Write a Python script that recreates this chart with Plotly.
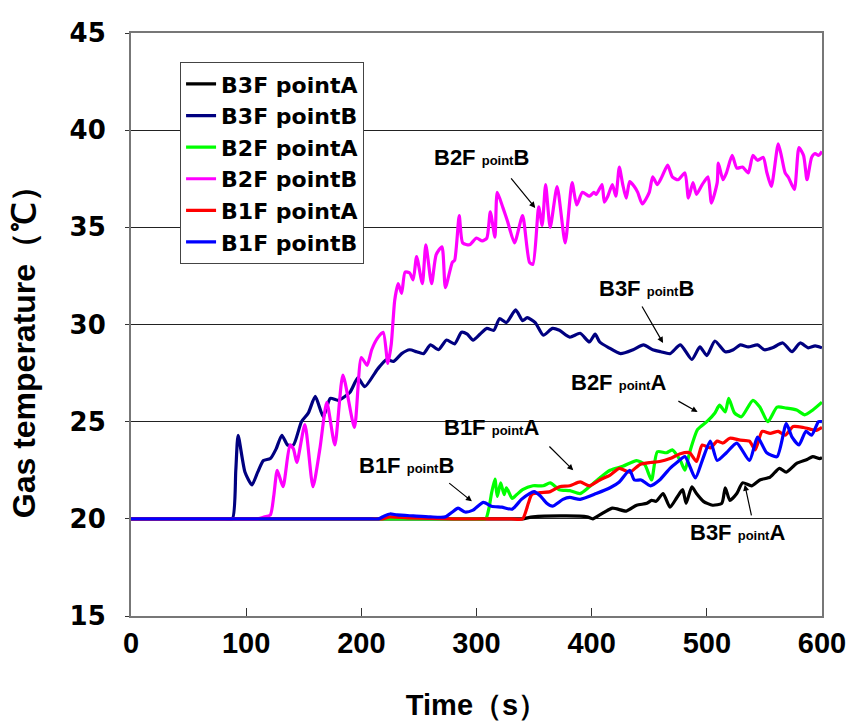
import plotly.graph_objects as go

# ---------------- data ----------------
t_b3f_a = [0, 330, 340, 349, 378, 396, 401, 407, 418, 430, 439, 448, 452, 456, 462, 468, 474, 479, 482, 487, 491,
           497, 505, 513, 516, 520, 526, 531, 539, 546, 555, 563, 569, 578, 587, 592, 598, 600]
v_b3f_a = [20, 20, 20, 20.1, 20.15, 20.1, 20.0, 20.2, 20.55, 20.4, 20.7, 20.8, 20.95, 20.9, 21.3, 20.6, 21.1, 21.5, 20.8, 21.65, 21.3,
           20.9, 20.7, 20.8, 21.6, 20.95, 21.3, 21.85, 21.7, 22.0, 22.15, 22.6, 22.4, 22.85, 23.05, 23.2, 23.1, 23.15]

t_b3f_b = [0, 80, 88, 91, 93, 99, 105, 110, 115, 121, 126, 131, 136, 141, 148, 154, 160, 167, 173, 180, 190,
           197, 203, 214, 222, 228, 235, 242, 248, 254, 260, 267, 274, 281, 287, 292, 297, 303, 309, 315, 320,
           326, 334, 340, 344, 351, 358, 366, 372, 381, 390, 398, 403, 407, 415, 425, 436, 445, 453, 460, 468,
           477, 487, 494, 500, 507, 516, 523, 529, 536, 544, 550, 557, 566, 574, 581, 588, 594, 600]
v_b3f_b = [20, 20, 20, 22.5, 24.3, 22.4, 21.75, 22.4, 23.0, 23.1, 23.6, 24.3, 23.8, 23.8, 25.0, 25.45, 26.3, 25.25, 26.2, 26.1, 26.5,
           27.25, 26.8, 27.7, 28.2, 28.1, 28.5, 28.7, 28.6, 28.5, 28.95, 28.7, 29.2, 29.0, 29.6, 29.5, 29.2, 29.5, 29.8, 29.7, 30.3,
           30.1, 30.75, 30.2, 30.35, 30.1, 29.45, 29.8, 29.7, 29.35, 29.55, 29.1, 29.5, 29.1, 28.8, 28.5, 28.7, 28.95, 28.7, 28.6, 28.5,
           28.95, 28.2, 28.85, 28.4, 29.15, 28.6, 28.7, 28.95, 28.85, 28.95, 28.7, 28.8, 29.05, 28.6, 29.05, 28.8, 28.9, 28.8]

t_b2f_a = [0, 300, 308, 311, 313, 316, 318, 321, 324, 326, 331, 335, 340, 349, 358, 364, 372, 381, 390, 398, 407,
           416, 427, 439, 446, 452, 457, 465, 470, 477, 481, 485, 492, 500, 507, 511, 516, 519, 524, 530, 540,
           546, 553, 561, 569, 578, 585, 592, 600]
v_b2f_a = [20, 20, 20, 20.6, 21.3, 22.05, 21.15, 21.85, 21.25, 21.6, 21.05, 21.25, 21.5, 21.7, 21.7, 21.85, 21.5, 21.45, 21.3, 21.65, 22.1,
           22.5, 22.7, 23.0, 22.8, 22.0, 23.45, 23.4, 23.55, 23.0, 22.5, 23.4, 24.6, 25.0, 25.45, 25.85, 25.5, 26.2, 25.45, 25.25, 26.1,
           25.75, 25.0, 25.75, 25.7, 25.6, 25.35, 25.6, 26.0]

t_b2f_b = [0, 100, 110, 116, 121, 124, 127, 132, 138, 141, 144, 151, 158, 164, 170, 177, 184, 194, 200, 205, 209,
           214, 219, 223, 226, 229, 232, 235, 238, 242, 245, 248, 253, 256, 261, 265, 270, 273, 279, 281, 285,
           288, 294, 300, 305, 309, 312, 316, 318, 323, 327, 333, 340, 346, 349, 354, 357, 360, 364, 370, 377,
           383, 387, 392, 398, 402, 404, 409, 411, 414, 418, 421, 424, 427, 430, 433, 437, 440, 444, 450, 453,
           457, 461, 466, 470, 475, 481, 484, 488, 491, 496, 501, 504, 509, 510, 514, 517, 522, 526, 531, 536,
           540, 544, 549, 552, 556, 562, 565, 568, 571, 576, 580, 584, 587, 591, 594, 597, 600]
v_b2f_b = [20, 20, 20, 20.1, 20.2, 21.2, 22.5, 21.65, 23.8, 23.6, 22.9, 24.85, 21.65, 23.6, 26.0, 23.8, 27.4, 24.7, 28.3, 27.9, 28.7,
           29.3, 29.6, 28.0, 29.0, 31.25, 32.1, 31.6, 32.7, 32.65, 32.3, 33.5, 32.1, 34.1, 32.1, 33.6, 34.0, 31.9, 33.2, 33.3, 35.6,
           34.2, 34.1, 34.45, 34.3, 34.45, 35.8, 34.5, 36.8, 36.0, 35.3, 34.2, 35.6, 33.2, 33.1, 36.05, 35.1, 37.2, 35.0, 37.1, 34.2,
           37.3, 36.15, 36.8, 36.6, 36.8, 36.7, 37.2, 36.3, 36.6, 37.2, 36.6, 38.1, 37.2, 36.5, 37.35, 37.1, 36.8, 36.2, 36.8, 37.6,
           37.2, 37.6, 38.2, 37.6, 37.45, 37.8, 36.5, 37.3, 36.7, 37.2, 37.6, 36.25, 37.3, 38.3, 37.45, 37.8, 38.7, 38.05, 38.1, 37.8,
           38.7, 38.45, 38.6, 37.85, 37.1, 39.3, 38.6, 37.8, 37.55, 36.95, 39.1, 38.7, 37.45, 38.6, 38.8, 38.7, 38.9]

t_b1f_a = [0, 208, 218, 225, 240, 280, 330, 340, 345, 348, 355, 364, 372, 381, 390, 398, 407, 416, 424, 433, 442, 451,
           459, 468, 477, 485, 491, 496, 503, 509, 514, 520, 529, 537, 542, 548, 555, 562, 568, 575, 584, 591,
           595, 600]
v_b1f_a = [20, 20, 20, 20.1, 20.05, 20.0, 20.0, 20.0, 20.8, 21.25, 21.35, 21.4, 21.65, 21.7, 21.9, 21.7, 22.0, 22.25, 22.6, 22.4, 22.8, 22.9,
           22.95, 23.1, 23.35, 23.4, 22.95, 23.8, 23.65, 24.0, 23.9, 24.15, 24.05, 24.0, 23.55, 24.5, 24.4, 24.5, 24.3, 24.75, 24.7, 24.6,
           24.55, 24.7]

t_b1f_b = [0, 205, 215, 220, 225, 231, 245, 260, 273, 279, 284, 290, 297, 306, 313, 322, 331, 339, 346, 350, 355,
           361, 366, 375, 381, 390, 404, 416, 424, 433, 437, 443, 451, 459, 468, 474, 481, 490, 496, 503, 509,
           517, 526, 537, 544, 552, 561, 569, 574, 580, 586, 591, 597, 600]
v_b1f_b = [20, 20, 20, 20.15, 20.25, 20.2, 20.15, 20.1, 20.1, 20.35, 20.55, 20.35, 20.45, 20.85, 20.65, 20.6, 20.5, 21.0, 21.3, 21.4, 21.2,
           20.8, 20.65, 21.0, 21.1, 21.0, 21.3, 21.6, 21.9, 22.5, 22.0, 22.0, 21.7, 22.0, 22.6, 22.9, 23.2, 22.1, 23.0, 24.0, 23.0,
           23.4, 23.9, 23.0, 24.2, 23.4, 23.2, 24.9, 24.2, 23.8, 24.5, 24.3, 25.0, 25.0]

series = [
    ("B3F pointA", t_b3f_a, v_b3f_a, "#000000"),
    ("B3F pointB", t_b3f_b, v_b3f_b, "#000080"),
    ("B2F pointA", t_b2f_a, v_b2f_a, "#00FF00"),
    ("B2F pointB", t_b2f_b, v_b2f_b, "#FF00FF"),
    ("B1F pointA", t_b1f_a, v_b1f_a, "#FF0000"),
    ("B1F pointB", t_b1f_b, v_b1f_b, "#0000FF"),
]

# annotation labels: (big prefix, small, big suffix, label x, label y, arrow tail x, y, arrow head x, y)
labels = [
    ("B2F", "point", "B", 304, 38.57, 329, 37.6, 351, 36.0),
    ("B3F", "point", "B", 448, 31.83, 443, 31.0, 462, 29.05),
    ("B2F", "point", "A", 423, 27.0, 474, 26.1, 492, 25.5),
    ("B1F", "point", "A", 313, 24.7, 362, 23.8, 384, 22.5),
    ("B1F", "point", "B", 239, 22.73, 275, 21.9, 296, 20.9),
    ("B3F", "point", "A", 527, 19.28, 539, 20.1, 533, 21.75),
]

x_ticks = [0, 100, 200, 300, 400, 500, 600]
y_ticks = [15, 20, 25, 30, 35, 40, 45]

SANS = "Liberation Sans, Arial, sans-serif"
WIDE = "DejaVu Sans, Liberation Sans, Arial, sans-serif"

fig = go.Figure()
for name, t, v, c in series:
    fig.add_trace(go.Scatter(x=t, y=v, mode="lines", name=name,
                             line=dict(color=c, width=3.2, shape="spline", smoothing=0.6)))

annotations = []
for big1, small, big2, lx, ly, tx, ty, hx, hy in labels:
    annotations.append(dict(
        x=lx, y=ly, xref="x", yref="y", showarrow=False,
        text=f"{big1} <span style='font-size:13px'>{small}</span>{big2}",
        font=dict(family=SANS, size=22, color="black", weight="bold"),
        xanchor="center", yanchor="middle"))
    annotations.append(dict(
        x=hx, y=hy, ax=tx, ay=ty, xref="x", yref="y", axref="x", ayref="y",
        text="", showarrow=True, arrowhead=2, arrowsize=1, arrowwidth=1.2,
        arrowcolor="black", standoff=0, startstandoff=0))

# y-axis title placed as rotated paper annotation
annotations.append(dict(
    x=-0.155, y=0.466, xref="paper", yref="paper", showarrow=False,
    text="Gas temperature（℃）", textangle=-90,
    font=dict(family=SANS, size=32, color="black", weight="bold"),
    xanchor="center", yanchor="middle"))

fig.update_layout(
    width=856, height=722,
    margin=dict(l=131, r=34, t=33, b=106),
    paper_bgcolor="white", plot_bgcolor="white",
    showlegend=True,
    legend=dict(x=0.071, y=0.95, xanchor="left", yanchor="top",
                bgcolor="white", bordercolor="#444", borderwidth=1,
                font=dict(family=WIDE, size=22, color="black", weight="bold"),
                tracegroupgap=0),
    annotations=annotations,
)

fig.update_xaxes(
    range=[0, 600], tickvals=x_ticks, ticktext=[str(v) for v in x_ticks],
    ticks="inside", ticklen=8, tickcolor="#333", tickwidth=1,
    showgrid=False, zeroline=False, automargin=False,
    showline=True, linecolor="#777", linewidth=2, mirror=True,
    tickfont=dict(family=SANS, size=29, color="black", weight="bold"),
    title=dict(text="Time（s）", standoff=37,
               font=dict(family=SANS, size=29, color="black", weight="bold")),
)
fig.update_yaxes(
    range=[15, 45], tickvals=y_ticks, ticktext=[str(v) for v in y_ticks],
    ticks="outside", ticklen=4, tickcolor="#333", tickwidth=1,
    ticklabelstandoff=14, automargin=False,
    showgrid=True, gridcolor="#222", gridwidth=1, zeroline=False,
    showline=True, linecolor="#777", linewidth=2, mirror=True,
    tickfont=dict(family=WIDE, size=26, color="black", weight="bold"),
)

fig.write_html("out.html")
